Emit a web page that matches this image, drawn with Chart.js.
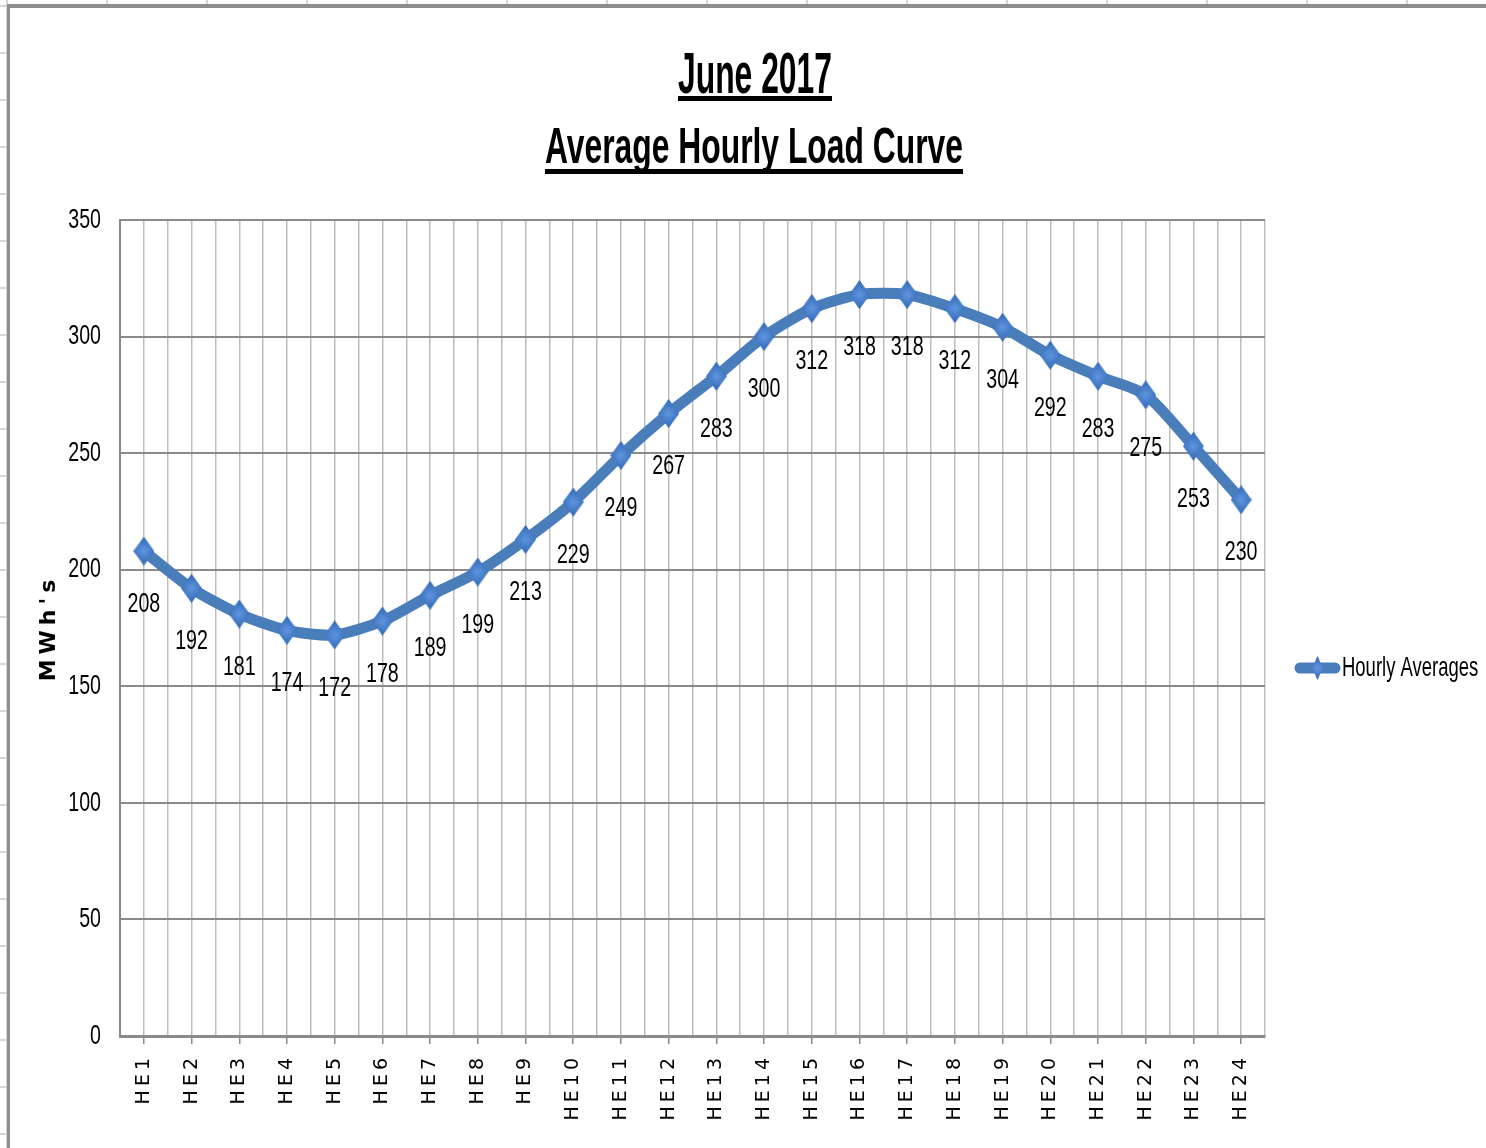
<!DOCTYPE html>
<html>
<head>
<meta charset="utf-8">
<script src="https://cdn.jsdelivr.net/npm/chart.js@4"></script>
<style>
  html, body { margin: 0; padding: 0; }
  body {
    width: 1486px; height: 1148px; overflow: hidden; position: relative;
    background-color: #fff;
    background-image: linear-gradient(to right, #d6d6d6 2px, transparent 2px),
                      linear-gradient(to bottom, #d6d6d6 2px, transparent 2px);
    background-size: 100px 47px;
    background-position: 6px 5px;
  }
  #frame {
    position: absolute; left: 7px; top: 4px;
    width: 1479px; height: 1144px;
    border-left: 3px solid #8d8d8d; border-top: 4px solid #8d8d8d;
    background: #fff;
  }
  #wrap { position: absolute; left: 0; top: 0; width: 1476px; height: 1140px; }
</style>
</head>
<body>
<div id="frame"><div id="wrap"><canvas id="myChart"></canvas></div></div>
<script>
const hours = ["HE1", "HE2", "HE3", "HE4", "HE5", "HE6", "HE7", "HE8", "HE9", "HE10", "HE11", "HE12",
  "HE13", "HE14", "HE15", "HE16", "HE17", "HE18", "HE19", "HE20", "HE21", "HE22", "HE23", "HE24"];
const hourlyAverages = [208, 192, 181, 174, 172, 178, 189, 199, 213, 229, 249, 267,
  283, 300, 312, 318, 318, 312, 304, 292, 283, 275, 253, 230];
const seriesName = "Hourly Averages";
const titleLines = ["June 2017", "Average Hourly Load Curve"];
const yTitle = "MWh's";

const sans = "'Liberation Sans', Arial, sans-serif";
const squeeze = 0.7; // Excel squeezes its Calibri text, we do the same with Liberation
const lineBlue = "#4a7ebb";

// tall diamond used as the point marker
function makeDiamond(w, h) {
  const c = document.createElement("canvas");
  c.width = w; c.height = h;
  const g = c.getContext("2d");
  const grad = g.createRadialGradient(w / 2, h / 2, 1, w / 2, h / 2, h / 2);
  grad.addColorStop(0, "#5d93dc");
  grad.addColorStop(1, "#2f66b3");
  g.fillStyle = grad;
  g.beginPath();
  g.moveTo(w / 2, 0); g.lineTo(w, h / 2); g.lineTo(w / 2, h); g.lineTo(0, h / 2);
  g.closePath(); g.fill();
  return c;
}
const diamond = makeDiamond(21, 29);

// underlined title + legend on the right
const titlePlugin = {
  id: "underlinedTitle",
  afterDraw(chart) {
    const ctx = chart.ctx;
    const specs = [
      { text: titleLines[0], cx: 745, base: 85, size: 57, width: 154, uy: 88 },
      { text: titleLines[1], cx: 744, base: 155, size: 50, width: 418, uy: 161 }
    ];
    ctx.save();
    ctx.fillStyle = "#000";
    specs.forEach(s => {
      ctx.font = "bold " + s.size + "px " + sans;
      const w = ctx.measureText(s.text).width;
      ctx.save();
      ctx.translate(s.cx, s.base);
      ctx.scale(s.width / w, 1);
      ctx.textAlign = "center";
      ctx.textBaseline = "alphabetic";
      ctx.fillText(s.text, 0, 0);
      ctx.restore();
      ctx.fillRect(s.cx - s.width / 2, s.uy, s.width, 5);
    });

    // legend
    const lx = 1285, ly = 660;
    const ds = chart.data.datasets[0];
    ctx.strokeStyle = ds.borderColor; ctx.lineWidth = 11; ctx.lineCap = "round";
    ctx.beginPath(); ctx.moveTo(lx + 5, ly); ctx.lineTo(lx + 40, ly); ctx.stroke();
    ctx.drawImage(makeDiamond(11, 24), lx + 17, ly - 12);
    ctx.font = "28px " + sans;
    ctx.textAlign = "left";
    ctx.textBaseline = "middle";
    ctx.translate(lx + 47, ly);
    ctx.scale(0.66, 1);
    ctx.fillText(ds.label, 0, 0);
    ctx.restore();
  }
};

// value labels under each point
const valueLabels = {
  id: "valueLabels",
  afterDatasetsDraw(chart) {
    const ctx = chart.ctx;
    const meta = chart.getDatasetMeta(0);
    const data = chart.data.datasets[0].data;
    ctx.save();
    ctx.font = "28px " + sans;
    ctx.fillStyle = "#000";
    ctx.textAlign = "center";
    ctx.textBaseline = "middle";
    meta.data.forEach((pt, i) => {
      ctx.save();
      ctx.translate(pt.x, pt.y + 53);
      ctx.scale(squeeze, 1);
      ctx.fillText(String(data[i]), 0, 0);
      ctx.restore();
    });
    ctx.restore();
  }
};

// letter spacing for the x labels and y title, squeeze for the y labels
const textTweaks = {
  id: "textTweaks",
  afterUpdate(chart) {
    const xs = chart.scales.x;
    if (!xs._tweaked) {
      const orig = xs.drawLabels;
      xs.drawLabels = function (a) {
        this.ctx.save(); this.ctx.letterSpacing = "4px";
        orig.call(this, a);
        this.ctx.restore();
      };
      xs._tweaked = true;
    }
    const ys = chart.scales.y;
    if (!ys._tweaked) {
      const origT = ys.drawTitle;
      ys.drawTitle = function () {
        this.ctx.save(); this.ctx.letterSpacing = "5px";
        origT.call(this);
        this.ctx.restore();
      };
      const origL = ys.drawLabels;
      ys.drawLabels = function (a) {
        const ax = this.right - this.options.ticks.padding;
        const c = this.ctx;
        c.save();
        c.translate(ax, 0); c.scale(squeeze, 1); c.translate(-ax, 0);
        origL.call(this, a);
        c.restore();
      };
      ys._tweaked = true;
    }
  }
};

new Chart(document.getElementById("myChart"), {
  type: "line",
  data: {
    labels: hours,
    datasets: [
      {
        label: seriesName,
        data: hourlyAverages,
        borderColor: lineBlue,
        backgroundColor: lineBlue,
        borderWidth: 11,
        tension: 0.25,
        pointStyle: diamond,
        pointRadius: 10,
        pointHoverRadius: 10,
      },
    ],
  },
  options: {
    responsive: true,
    maintainAspectRatio: false,
    animation: false,
    events: [],
    layout: { padding: { top: 212, right: 221, bottom: 0, left: 0 } },
    plugins: {
      title: { display: false },
      tooltip: { enabled: false },
      legend: { display: false },
    },
    scales: {
      x: {
        type: "category",
        offset: true,
        grid: { offset: false, color: "#bdbdbd", lineWidth: 1.5, drawTicks: true, tickLength: 8, tickColor: "#8a8a8a" },
        border: { display: true, color: "#8a8a8a", width: 3 },
        ticks: {
          autoSkip: false,
          maxRotation: 90,
          minRotation: 90,
          padding: 10,
          color: "#000",
          font: { family: "'DejaVu Sans', sans-serif", size: 19 },
        },
        afterFit(scale) { scale.height = 112; },
      },
      x2: {
        type: "category",
        labels: hours,
        position: "bottom",
        offset: true,
        grid: { offset: true, color: "#bdbdbd", lineWidth: 1.5, drawTicks: false },
        border: { display: false },
        ticks: { display: false },
        afterFit(scale) { scale.height = 0; },
      },
      y: {
        min: 0,
        max: 350,
        ticks: {
          stepSize: 50,
          padding: 19,
          color: "#000",
          font: { family: sans, size: 28 },
        },
        grid: { color: "#8a8a8a", lineWidth: 2, drawTicks: false },
        border: { display: true, color: "#8a8a8a", width: 2 },
        title: {
          display: true,
          text: yTitle,
          color: "#000",
          font: { family: "'DejaVu Sans', sans-serif", size: 22, weight: "bold" },
          padding: { top: 26, bottom: 0 },
        },
        afterFit(scale) { scale.width = 110; },
      },
    },
  },
  plugins: [titlePlugin, valueLabels, textTweaks],
});
</script>
</body>
</html>
